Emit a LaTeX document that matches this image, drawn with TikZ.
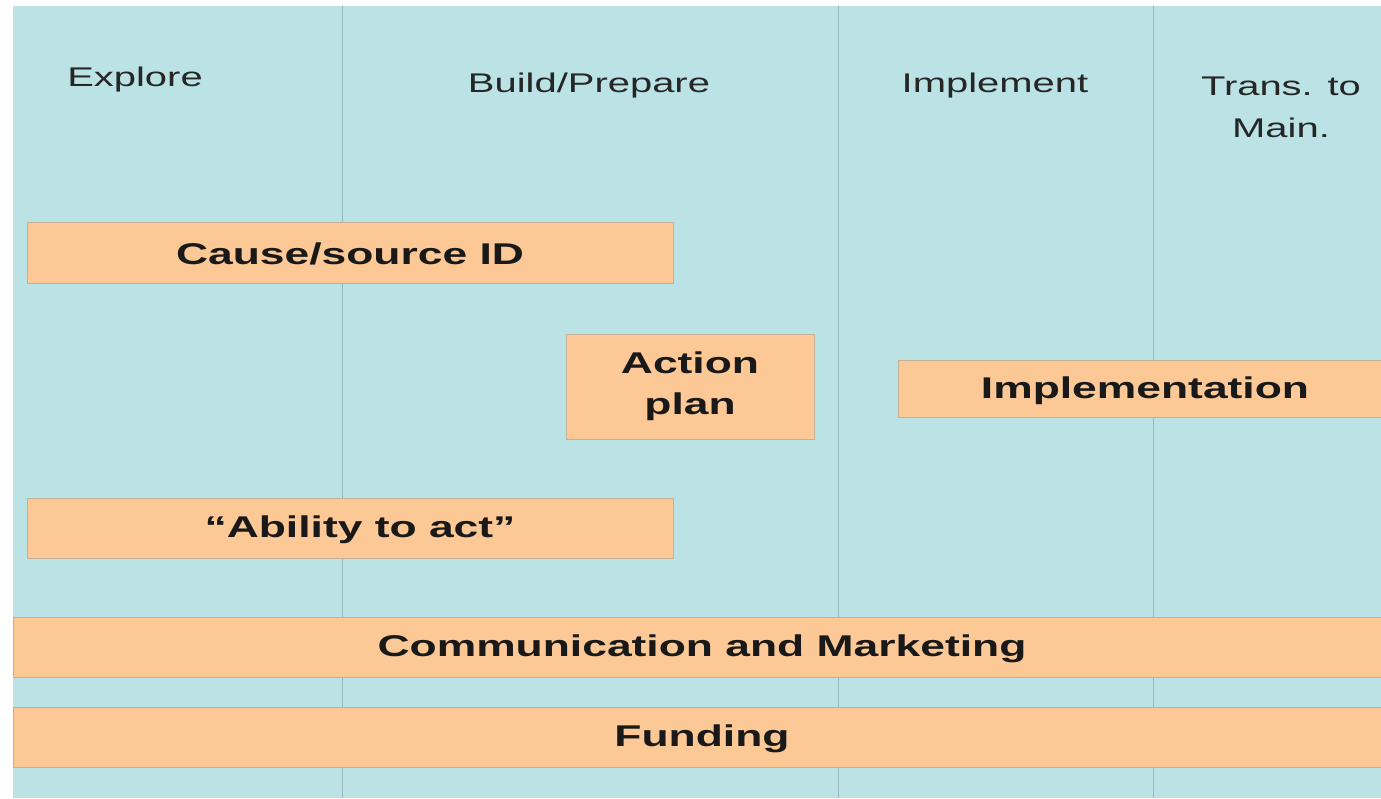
\documentclass[tikz,border=0pt]{standalone}
\usepackage{fontspec}
\usepackage{graphicx}
\setmainfont{Liberation Sans}
\definecolor{bgblue}{RGB}{187,226,229}
\definecolor{boxfill}{RGB}{252,200,150}
\definecolor{boxedge}{RGB}{196,176,150}
\definecolor{divline}{RGB}{150,184,188}
\newcommand{\sx}[1]{\scalebox{1.48}[1]{#1}}
\tikzset{
  box/.style={draw=boxedge, line width=1pt, fill=boxfill, inner sep=0pt, anchor=north west},
  lbl/.style={inner sep=0pt, font=\fontsize{30}{41}\selectfont\bfseries, align=center, text=black!90},
  head/.style={inner sep=0pt, font=\fontsize{27}{42}\selectfont, align=center, text=black!85},
  divider/.style={draw=divline, line width=1pt}
}
\begin{document}
\begin{tikzpicture}[x=1pt,y=-1pt]
\useasboundingbox (0,0) rectangle (1381,798);
\fill[white] (0,0) rectangle (1381,798);
\fill[bgblue] (13,6) rectangle (1381,798);
% column dividers
\coordinate (d1t) at (342,6); \coordinate (d1b) at (342,798);
\coordinate (d2t) at (838,6); \coordinate (d2b) at (838,798);
\coordinate (d3t) at (1153,6); \coordinate (d3b) at (1153,798);
\draw[divider] (d1t) -- (d1b);
\draw[divider] (d2t) -- (d2b);
\draw[divider] (d3t) -- (d3b);
% headers
\node[head] (hexplore) at (135,80) {\sx{Explore}};
\node[head] (hbuild) at (589,86) {\sx{Build/Prepare}};
\node[head] (himpl) at (995,86) {\sx{Implement}};
\node[head] (htrans) at (1281,107) {\sx{Trans. to}\\\sx{Main.}};
% boxes
\node[box, minimum width=646pt, minimum height=61pt] (cause) at (27,222) {};
\node[lbl] (causel) at (350,254) {\sx{Cause/source ID}};
\node[box, minimum width=248pt, minimum height=105pt] (action) at (566,334) {};
\node[lbl] (actionl) at (690,386) {\sx{Action}\\\sx{plan}};
\node[box, minimum width=490pt, minimum height=57pt] (impl) at (898,360) {};
\node[lbl] (impll) at (1145,391) {\sx{Implementation}};
\node[box, minimum width=646pt, minimum height=60pt] (ability) at (27,498) {};
\node[lbl] (abilityl) at (360,530) {\sx{“Ability to act”}};
\node[box, minimum width=1380pt, minimum height=60pt] (comm) at (13,617) {};
\node[lbl] (comml) at (702,649) {\sx{Communication and Marketing}};
\node[box, minimum width=1380pt, minimum height=60pt] (fund) at (13,707) {};
\node[lbl] (fundl) at (702,739) {\sx{Funding}};
\end{tikzpicture}
\end{document}
